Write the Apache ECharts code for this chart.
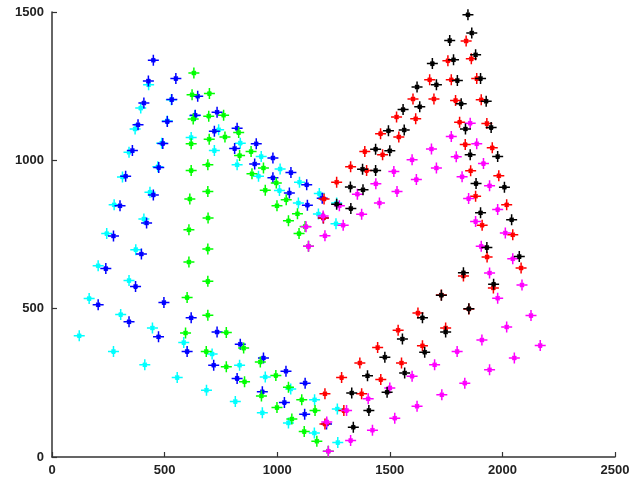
<!DOCTYPE html>
<html>
<head>
<meta charset="utf-8">
<script src="https://cdn.jsdelivr.net/npm/echarts@6/dist/echarts.min.js"></script>
<style>html,body{margin:0;padding:0;background:#fff}#c{width:634px;height:484px}</style>
</head>
<body>
<div id="c"></div>
<script>
var xTicks = [0, 500, 1000, 1500, 2000, 2500];
var yTicks = [0, 500, 1000, 1500];

var cyanPts = [
  [121,409],[165,534],[205,645],[243,753],[276,850],[313,944],[342,1027],[369,1106],[394,1176],[429,1255],
  [273,356],[305,480],[342,595],[372,699],[408,802],[435,892],[470,978],[487,1058],[512,1133],[530,1204],
  [446,435],[585,386],[711,347],[833,309],[947,270],[1060,229],[1166,193],[1267,162],
  [412,311],[556,268],[686,225],[814,187],[934,149],[1050,115],[1165,81],[1269,49],
  [634,1150],[618,1077],[740,1103],[721,1033],[836,1058],[822,985],[929,1013],[917,946],
  [1013,971],[1010,898],[1099,926],[1094,856],[1187,888],[1183,819],[1264,856],[1261,786]
];
var bluePts = [
  [205,513],[239,635],[273,745],[302,847],[327,946],[357,1033],[382,1120],[408,1193],[428,1267],[450,1337],
  [342,456],[371,575],[397,684],[420,789],[450,883],[474,976],[492,1057],[512,1131],[532,1205],[550,1276],
  [647,1216],[733,1162],[822,1108],[907,1056],[981,1008],[1061,959],[1131,918],[1200,872],
  [636,1152],[721,1098],[811,1040],[900,988],[981,941],[1054,890],[1134,849],[1205,806],
  [473,405],[600,356],[718,309],[822,265],[934,220],[1032,184],[1122,144],[1219,111],
  [497,521],[618,469],[733,421],[836,380],[939,334],[1039,289],[1124,249]
];
var greenPts = [
  [630,1294],[622,1221],[627,1139],[618,1056],[618,966],[612,870],[608,766],[608,657],[600,538],[593,418],
  [699,1225],[696,1149],[698,1071],[692,985],[692,895],[693,806],[692,701],[692,592],[692,478],[685,356],
  [762,1152],[768,1079],[829,1094],[833,1016],[884,1030],[888,955],[939,974],[947,899],[996,924],[999,847],
  [1040,867],[1050,796],[1090,820],[1097,753],[1124,777],[1139,710],
  [774,420],[851,367],[925,320],[994,275],[1050,235],[1109,193],[1168,157],
  [774,304],[855,254],[930,206],[999,167],[1065,128],[1120,86],[1176,53],[1227,19]
];
var redPts = [
  [1212,111],[1212,213],[1286,268],[1296,157],[1367,317],[1375,213],[1446,369],[1460,261],[1537,427],[1552,317],
  [1625,485],[1645,375],[1729,546],[1748,435],[1827,610],[1851,499],[1960,570],[1932,674],[2083,637],[1910,781],
  [2046,749],[1881,879],[2019,850],[1859,965],[1984,948],[1835,1053],[1955,1042],[1810,1128],[1931,1124],[1792,1202],
  [1906,1204],[1773,1272],[1886,1276],[1758,1336],[1862,1342],[1839,1402],[1696,1207],[1677,1272],[1615,1140],[1603,1207],
  [1530,1146],[1540,1079],[1459,1090],[1468,1019],[1389,1030],[1397,966],[1326,978],[1264,926],[1208,870],[1205,806]
];
var blackPts = [
  [1847,1491],[1864,1429],[1766,1404],[1881,1356],[1783,1339],[1689,1326],[1903,1276],[1800,1269],[1707,1255],[1621,1247],
  [1928,1199],[1817,1191],[1633,1181],[1559,1171],[1950,1111],[1836,1106],[1564,1102],[1494,1100],[1857,1019],[1979,1013],
  [1437,1037],[1500,1032],[1379,970],[1437,966],[1325,910],[1381,901],[1327,838],[1264,852],[1883,922],[2009,909],
  [1903,823],[2041,800],[1931,706],[2075,676],[1827,621],[1961,582],[1729,545],[1851,500],[1645,469],[1748,421],
  [1556,398],[1655,353],[1478,336],[1566,283],[1401,274],[1488,218],[1331,216],[1407,157],[1338,100]
];
var magentaPts = [
  [1857,1125],[1886,1056],[1773,1080],[1685,1038],[1795,1012],[1916,989],[1599,1002],[1707,974],[1821,945],[1943,914],
  [1518,962],[1618,935],[1850,871],[1979,834],[1438,921],[1532,895],[1881,794],[2013,755],[1356,886],[1454,856],
  [1906,710],[2046,668],[1276,847],[1375,818],[1943,620],[2087,580],[1204,812],[1293,781],[1979,535],[2127,477],
  [1128,776],[1212,746],[1909,394],[2019,438],[2168,376],[1139,710],[1799,356],[2053,334],[1699,311],[1943,294],
  [1599,272],[1833,249],[1500,233],[1731,210],[1404,196],[1621,171],[1308,157],[1522,131],[1220,118],[1423,90],
  [1326,56],[1227,19]
];

var seriesDefs = [
  {name:'c', color:'#00FFFF', data:cyanPts},
  {name:'b', color:'#0000FF', data:bluePts},
  {name:'g', color:'#00FF00', data:greenPts},
  {name:'r', color:'#FF0000', data:redPts},
  {name:'m', color:'#FF00FF', data:magentaPts},
  {name:'k', color:'#000000', data:blackPts}
];

var starPath = 'path://M5 0L5 10M0 5L10 5M3.2 3.2L6.8 6.8M6.8 3.2L3.2 6.8M4.6 4.6L5.4 4.6L5.4 5.4L4.6 5.4Z';

var labelStyle = {fontFamily:'Liberation Sans, Arial, sans-serif', fontSize:13, fontWeight:'bold', color:'#222',
  formatter:function(v){ return String(v); }};

var axisCommon = {
  type:'value',
  axisLine:{show:true, lineStyle:{color:'#333', width:1.5}},
  axisTick:{show:true, inside:true, length:5, lineStyle:{color:'#333', width:1.2}},
  splitLine:{show:false}
};

var chart = echarts.init(document.getElementById('c'), null, {renderer:'canvas'});
chart.setOption({
  animation:false,
  backgroundColor:'#fff',
  grid:{left:52, right:19, top:12, bottom:27},
  xAxis: Object.assign({}, axisCommon, {min:xTicks[0], max:xTicks[xTicks.length-1], interval:500,
    axisLabel:Object.assign({}, labelStyle, {margin:7})}),
  yAxis: Object.assign({}, axisCommon, {min:yTicks[0], max:yTicks[yTicks.length-1], interval:500,
    axisLabel:Object.assign({}, labelStyle, {margin:8})}),
  series: seriesDefs.map(function(s){
    return {
      type:'scatter', name:s.name, data:s.data,
      symbol:starPath, symbolSize:11,
      itemStyle:{color:s.color, borderColor:s.color, borderWidth:1.5, opacity:1},
      emphasis:{disabled:true}, silent:true
    };
  })
});
</script>
</body>
</html>
